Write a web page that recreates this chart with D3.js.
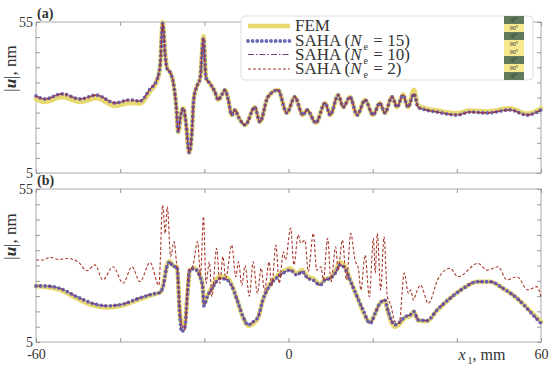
<!DOCTYPE html>
<html>
<head>
<meta charset="utf-8">
<script src="https://cdn.jsdelivr.net/npm/d3@7"></script>
<style>
  body { margin: 0; background: #fff; }
  text { font-family: "Liberation Serif", "DejaVu Serif", serif; fill: #333; }
</style>
</head>
<body>
<svg id="chart" width="550" height="370"></svg>
<script>
// panel (a): displacement magnitude, x1 in mm
var aX = [-60,-57.9,-53.8,-49.5,-45.7,-41.2,-37.7,-35.3,-32.9,-31.3,-30.5,-29.9,-29.3,-28.9,-28.0,-27.4,-26.7,-26.2,-25.6,-25.0,-24.4,-23.6,-23.0,-22.5,-21.8,-21.0,-20.2,-19.6,-18.7,-17.5,-16.7,-15.9,-15.1,-14.3,-13.5,-12.7,-11.9,-10.3,-8.0,-6.8,-4.9,-2.5,-0.4,1.5,3.4,4.4,6.5,8.7,9.9,11.8,13.0,14.6,16.3,18.2,20.1,21.7,22.9,24.6,25.8,27.2,28.4,29.8,30.8,32.9,35.3,40.0,43.1,47.2,52.6,56.7,60]
var aSaha15 = [30.5,29.5,31.2,29.5,30.8,28.2,29.2,28.8,32.8,35.8,40.8,54.6,44,39.7,38,35.2,27.5,18.8,24.2,26.5,22,11.8,17.6,29.7,33.6,36.4,49.6,36.4,34.7,31.9,29.2,30.8,32.5,29.2,24.2,25.9,23.6,20.9,26.8,21.9,30.2,32.5,24.9,30.2,24.2,25.9,21.6,28.2,24.2,30.8,26.8,30.2,24.2,29.2,24.2,28.2,24.9,30.2,26.8,30.8,26.8,31.2,26.8,25.8,25.2,24.2,25.2,24.9,25.9,24.2,25.9]
var aFem = [29.5,28.5,30.2,28.5,29.8,27.2,28.2,27.9,32,35.2,40.5,55,44.5,40,38,35,27.5,18.5,24.2,26.5,22,11.6,17.6,29.7,33.6,36.4,50.3,36.6,34.7,31.9,29.2,30.8,32.5,29.2,24.2,25.9,23.6,20.9,26.8,21.9,30.2,32.5,24.9,30.2,24.2,25.9,21.6,28.2,24.2,30.8,26.8,30.2,24.2,29.2,24.2,28.2,24.9,30.2,26.8,31,26.8,32.6,27.3,26.3,25.7,24.8,25.7,25.4,26.4,24.7,26.4]
var aSaha10 = aSaha15
var aSaha2 = aSaha15

// panel (b)
var bX = [-60,-57.9,-54.3,-50.3,-46.5,-43.1,-39.3,-35.3,-32.2,-30.5,-29.8,-28.9,-28.2,-27.4,-26.5,-25.8,-25.4,-24.6,-24.0,-23.4,-22.4,-21.2,-20.4,-20.1,-19.3,-17.9,-16.3,-14.6,-13.4,-12.2,-10.8,-9.6,-8.4,-7.2,-6.1,-4.4,-2.5,-1.3,0.4,2.0,3.2,4.6,5.8,7.5,8.7,9.9,11.1,12.2,13.4,14.6,16.3,17.7,19.4,20.6,21.7,22.9,23.6,24.6,25.3,26.5,27.7,28.9,29.8,30.8,32.9,35.3,38.4,41.5,44.8,47.9,51.0,54.3,57.4,60]
var bSaha15 = [23.3,23.3,22.5,19.8,17.6,16.8,17.4,19.4,20.7,21.2,23.1,29.6,31.2,29.6,29.6,13.3,8.4,10,21,28.5,29,26.9,23.1,16.8,19.8,23.1,25.8,25.3,23.1,18.7,13.3,10.6,11.6,13.3,18.7,23.6,26.3,27.5,28.5,26.9,28,25.8,25.3,23.6,25.3,25.8,27.5,30.2,29.1,25.3,19.8,15.5,11.1,14.4,17.6,18.7,15.5,11.6,10.6,11.6,13.3,13.8,14.9,12.2,12,15.5,19.3,22.5,24.7,24.7,22.5,19.3,14.9,11.1]
var bFem = [23.3,23,22,19.2,17,16.3,17,19,20.5,21.2,23.5,30,31.5,30,29.5,14,10.5,11,21,28.5,29.2,27.2,23.5,17.5,20,23.5,26.5,26,23.5,18.7,13,10.3,11,13,18.7,24,26.8,28,29,27.4,28.5,26.3,25.8,24,25.5,26,28,31,29.8,25.5,19.8,15,11.5,14.4,17.6,18.5,15,11,10,11,13,13.5,15,12,11.8,15.3,19.3,22.5,24.7,24.7,22.5,19.3,15.2,11.6]
var bSaha10 = bSaha15
var bX2 = [-60,-58.3,-56.7,-54.8,-52.6,-50.0,-47.9,-46.0,-44.1,-41.7,-39.3,-37.2,-35.3,-32.9,-30.8,-29.9,-29.3,-28.8,-28.0,-27.2,-26.6,-25.4,-24.6,-23.8,-22.8,-21.6,-20.9,-20.2,-19.6,-18.8,-18.2,-17.1,-16.3,-15.6,-14.9,-13.5,-12.5,-11.9,-11.1,-10.3,-9.3,-8.4,-7.4,-6.5,-5.7,-4.6,-4.0,-3.0,-2.2,-1.2,-0.7,0.5,1.3,2.3,2.9,3.9,4.7,5.9,6.7,7.7,8.3,9.3,10.1,11.2,11.8,12.8,13.8,14.8,15.8,16.6,17.2,18.2,19.2,20.2,20.6,21.1,21.9,22.7,23.5,24.3,25.3,26.3,27.5,28.5,29.0,29.7,30.3,31.4,33.2,35.6,38.4,40.3,45.0,47.2,49.8,51.9,54.3,56.9,59.0,60]
var bSaha2 = [31.8,31.8,32.7,32,32.3,31.2,28.3,30.2,25.3,29.6,24.2,29.6,24.7,31,23.5,49.8,40.5,49.2,32.9,37.8,30.7,11.2,8.9,28.5,29.6,37.8,26.9,46,24.2,31.2,19.8,35.6,24.2,32.9,25.8,36.7,26.3,31.2,23.6,30,20,31.2,20.9,29.1,22,31.2,23.1,36.7,24.2,34.5,31.8,42.2,30.2,40,37.3,38.3,28,40.5,28.5,29.6,25.3,38.9,24.7,36.1,28.5,38.3,25.3,40.5,31.8,29.1,22,33.4,19.8,38.9,27.5,40.5,22,39.4,19.8,17.1,11.6,11.1,27.5,20.9,22,18.7,20.9,23.6,17.6,25.8,29.1,26.3,30.7,28.5,29.6,25.3,26.3,22,23.1,19.8]

var yTicks = [5,10,15,20,25,30,35,40,45,50,55]
var xTicks = [-60,-40,-20,0,20,40,60]
var xLabels = [-60,0,60]
var layers = ["0°","90°","0°","90°","90°","0°","90°","0°"]

var svg = d3.select("#chart")
var left = 36, right = 541

var x = d3.scaleLinear().domain([-60, 60]).range([left, right])

var cFem = "#e9d86c", cDot = "#6b6bb8", cDd = "#7b3a78", cDash = "#a8382c"

function panel(top, bottom, tag, d) {
    var y = d3.scaleLinear().domain([5, 55]).range([bottom, top])
    var g = svg.append("g")

    g.append("rect")
        .attr("x", left).attr("y", top)
        .attr("width", right - left).attr("height", bottom - top)
        .attr("fill", "none").attr("stroke", "#aaa").attr("stroke-width", 1)

    var fmt = function(v) { return (v == 5 || v == 55) ? v : "" }
    var ax = [
        g.append("g").attr("transform", "translate(" + left + ",0)")
            .call(d3.axisLeft(y).tickValues(yTicks).tickSizeInner(-4).tickSizeOuter(0).tickPadding(3).tickFormat(fmt)),
        g.append("g").attr("transform", "translate(" + right + ",0)")
            .call(d3.axisRight(y).tickValues(yTicks).tickSizeInner(-4).tickSizeOuter(0).tickFormat("")),
        g.append("g").attr("transform", "translate(0," + top + ")")
            .call(d3.axisTop(x).tickValues(xTicks).tickSizeInner(-4).tickSizeOuter(0).tickFormat("")),
        g.append("g").attr("transform", "translate(0," + bottom + ")")
            .call(d3.axisBottom(x).tickValues(xTicks).tickSizeInner(-4).tickSizeOuter(0).tickPadding(7)
                .tickFormat(function(v) { return (tag == "(b)" && xLabels.indexOf(v) >= 0) ? v : "" }))
    ]
    ax.forEach(function(a) {
        a.select(".domain").remove()
        a.selectAll("line").attr("stroke", "#999")
        a.selectAll("text").style("font-size", "14px").attr("fill", "#444")
            .style("font-family", "'Liberation Serif', serif")
    })

    var line = function(xs) {
        return d3.line()
            .x(function(v, i) { return x(xs[i]) })
            .y(function(v) { return y(v) })
            .curve(d3.curveMonotoneX)
    }

    g.append("path").attr("d", line(d.x)(d.fem))
        .attr("fill", "none").attr("stroke", cFem).attr("stroke-width", 4.5)
        .attr("stroke-linejoin", "round").attr("stroke-linecap", "round")
    g.append("path").attr("d", line(d.x)(d.s15))
        .attr("fill", "none").attr("stroke", cDot).attr("stroke-width", 3.8)
        .attr("stroke-dasharray", "0 4.6").attr("stroke-linecap", "round")
    g.append("path").attr("d", line(d.x)(d.s10))
        .attr("fill", "none").attr("stroke", cDd).attr("stroke-width", 1.2)
        .attr("stroke-dasharray", "6 2 1.5 2")
    g.append("path").attr("d", line(d.x2)(d.s2))
        .attr("fill", "none").attr("stroke", cDash).attr("stroke-width", 1.1)
        .attr("stroke-dasharray", "3 2")

    svg.append("text").attr("x", 37).attr("y", top - 4)
        .style("font-size", "14px").style("font-weight", "bold").attr("fill", "#222")
        .text(tag)

    var yl = svg.append("text")
        .attr("transform", "translate(16," + (top + (bottom - top) / 2 - 29) + ") rotate(-90)")
        .attr("text-anchor", "middle").style("font-size", "17px")
    yl.append("tspan").text("|")
    yl.append("tspan").text("u").style("font-weight", "bold").style("font-style", "italic")
    yl.append("tspan").text("|, nm")
}

panel(22, 173, "(a)", { x: aX, fem: aFem, s15: aSaha15, s10: aSaha10, x2: aX, s2: aSaha2 })
panel(189, 342, "(b)", { x: bX, fem: bFem, s15: bSaha15, s10: bSaha10, x2: bX2, s2: bSaha2 })

// x axis label
var xl = svg.append("text").attr("x", 482).attr("y", 360)
    .attr("text-anchor", "middle").style("font-size", "16px")
xl.append("tspan").text("x").style("font-style", "italic")
xl.append("tspan").text("1").style("font-size", "10px").attr("dx", 2).attr("dy", 4)
xl.append("tspan").text(", mm").attr("dy", -4)

// legend
var lg = svg.append("g")
lg.append("rect").attr("x", 241).attr("y", 16).attr("width", 292).attr("height", 64)
    .attr("rx", 4).attr("fill", "#fff").attr("stroke", "#ddd")

var items = [
    { y: 26, stroke: cFem, w: 4.5, dash: null, cap: "butt", n: null, label: "FEM" },
    { y: 41, stroke: cDot, w: 3.8, dash: "0 4.6", cap: "round", n: "15" },
    { y: 54.5, stroke: cDd, w: 1.2, dash: "6 2 1.5 2", cap: "butt", n: "10" },
    { y: 69, stroke: cDash, w: 1, dash: "3 2", cap: "butt", n: "2" }
]
items.forEach(function(it) {
    lg.append("line").attr("x1", 248).attr("x2", 290).attr("y1", it.y).attr("y2", it.y)
        .attr("stroke", it.stroke).attr("stroke-width", it.w)
        .attr("stroke-dasharray", it.dash).attr("stroke-linecap", it.cap)
    var t = lg.append("text").attr("x", 295).attr("y", it.y + 5).style("font-size", "17px")
    if (it.n == null) {
        t.text(it.label)
    } else {
        t.append("tspan").text("SAHA (")
        t.append("tspan").text("N").style("font-style", "italic")
        t.append("tspan").text("e").style("font-size", "10px").attr("dx", 2).attr("dy", 4)
        t.append("tspan").text(" = " + it.n + ")").attr("dx", 1).attr("dy", -4)
    }
})

// layer stack
var cellH = 8
layers.forEach(function(l, i) {
    var green = l == "0°"
    lg.append("rect").attr("x", 504).attr("y", 16 + i * cellH).attr("width", 20).attr("height", cellH)
        .attr("fill", green ? "#61785a" : "#f6e98f")
    lg.append("text").attr("x", 514).attr("y", 16 + i * cellH + 6)
        .attr("text-anchor", "middle").style("font-size", "6px")
        .attr("fill", green ? "#e8eadc" : "#5a4a20")
        .text(l)
})
</script>
</body>
</html>
